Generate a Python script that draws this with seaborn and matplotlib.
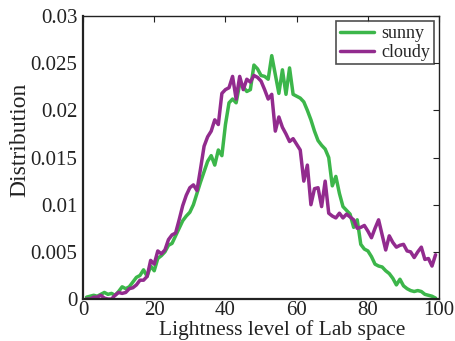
import numpy as np
import pandas as pd
import seaborn as sns
import matplotlib
matplotlib.use("Agg")
import matplotlib.pyplot as plt

lightness = list(range(1, 100))

sunny = [0.0002, 0.0003, 0.0004, 0.0003, 0.0005, 0.0007, 0.0005, 0.0006, 0.0004,
         0.0008, 0.0013, 0.0011, 0.0013, 0.0018, 0.0023, 0.0025, 0.0031, 0.0024, 0.0035,
         0.0030, 0.0043, 0.0046, 0.0050, 0.0057, 0.0059, 0.0067, 0.0075, 0.0083, 0.0088,
         0.0092, 0.0100, 0.0112, 0.0124, 0.0135, 0.0146, 0.0152, 0.0142, 0.0158, 0.0152,
         0.0185, 0.0208, 0.0212, 0.0208, 0.0228, 0.0225, 0.0220, 0.0222, 0.0248, 0.0244,
         0.0237, 0.0236, 0.0233, 0.0258, 0.0238, 0.0218, 0.0243, 0.0217, 0.0245, 0.0217,
         0.0215, 0.0213, 0.0209, 0.0200, 0.0190, 0.0178, 0.0168, 0.0163, 0.0159, 0.0150,
         0.0120, 0.0130, 0.0112, 0.0098, 0.0094, 0.0090, 0.0076, 0.0084, 0.0058, 0.0053,
         0.0051, 0.0045, 0.0037, 0.0035, 0.0034, 0.0030, 0.0027, 0.0022, 0.0015, 0.0021,
         0.0014, 0.0011, 0.0009, 0.0008, 0.0009, 0.0008, 0.0005, 0.0004, 0.0003, 0.0001]

cloudy = [0.0000, 0.0000, 0.0002, 0.0002, 0.0004, 0.0001, 0.0000, 0.0000, 0.0004,
          0.0007, 0.0006, 0.0007, 0.0011, 0.0012, 0.0015, 0.0020, 0.0020, 0.0024, 0.0041,
          0.0037, 0.0051, 0.0048, 0.0052, 0.0063, 0.0068, 0.0070, 0.0084, 0.0099, 0.0110,
          0.0118, 0.0121, 0.0115, 0.0138, 0.0162, 0.0172, 0.0178, 0.0190, 0.0185, 0.0218,
          0.0222, 0.0224, 0.0236, 0.0212, 0.0236, 0.0222, 0.0233, 0.0230, 0.0237, 0.0235,
          0.0231, 0.0222, 0.0212, 0.0217, 0.0178, 0.0193, 0.0182, 0.0175, 0.0167, 0.0170,
          0.0164, 0.0158, 0.0125, 0.0142, 0.0100, 0.0117, 0.0118, 0.0098, 0.0125, 0.0091,
          0.0088, 0.0086, 0.0091, 0.0086, 0.0090, 0.0087, 0.0084, 0.0075, 0.0076, 0.0078,
          0.0072, 0.0065, 0.0075, 0.0084, 0.0068, 0.0052, 0.0067, 0.0060, 0.0055, 0.0057,
          0.0058, 0.0051, 0.0050, 0.0044, 0.0050, 0.0055, 0.0042, 0.0043, 0.0035, 0.0047]

x_ticks = [0, 20, 40, 60, 80, 100]
y_ticks = [0, 0.005, 0.01, 0.015, 0.02, 0.025, 0.03]
y_tick_labels = ["0", "0.005", "0.01", "0.015", "0.02", "0.025", "0.03"]

df = pd.DataFrame({
    "Lightness": lightness * 2,
    "Distribution": sunny + cloudy,
    "Weather": ["sunny"] * len(sunny) + ["cloudy"] * len(cloudy),
})

sns.set_theme(style="white")
plt.rcParams["font.family"] = ["Liberation Serif", "DejaVu Serif"]

fig = plt.figure(figsize=(4.56, 3.41), dpi=100)
ax = fig.add_axes([0.182, 0.123, 0.781, 0.830])

sns.lineplot(data=df, x="Lightness", y="Distribution", hue="Weather",
             palette={"sunny": "#3cb64a", "cloudy": "#922b8e"},
             linewidth=2.5, ax=ax, legend=True)

ax.set_xlim(0, 100)
ax.set_ylim(0, 0.03)
ax.set_xticks(x_ticks)
ax.set_xticklabels([str(t) for t in x_ticks])
ax.set_yticks(y_ticks)
ax.set_yticklabels(y_tick_labels)
ax.tick_params(direction="in", length=4, width=0.8, top=True, right=True,
               labelsize=15, colors="#222222", labelcolor="#222222")
ax.tick_params(axis="x", pad=1.5)
ax.tick_params(axis="y", pad=4)
for s in ax.spines.values():
    s.set_color("#222222")
    s.set_linewidth(1.0)
ax.spines["bottom"].set_linewidth(1.6)
ax.spines["left"].set_linewidth(1.6)

ax.set_xlabel("Lightness level of Lab space", fontsize=15.5, color="#222222")
ax.xaxis.set_label_coords(0.6195, 0.004, transform=fig.transFigure)
ax.xaxis.label.set_va("bottom")
ax.set_ylabel("Distribution", fontsize=17, color="#222222")
ax.yaxis.set_label_coords(-0.149, 0.563)

leg = ax.legend(loc="upper right", fontsize=13, frameon=True, fancybox=False,
                borderpad=0.2, handlelength=1.9, handletextpad=0.4, labelspacing=0.1,
                borderaxespad=0.3)
leg.get_frame().set_edgecolor("#222222")
leg.get_frame().set_linewidth(1.2)
for h in leg.get_lines():
    h.set_linewidth(2.5)

fig.savefig("out.png", dpi=100)
